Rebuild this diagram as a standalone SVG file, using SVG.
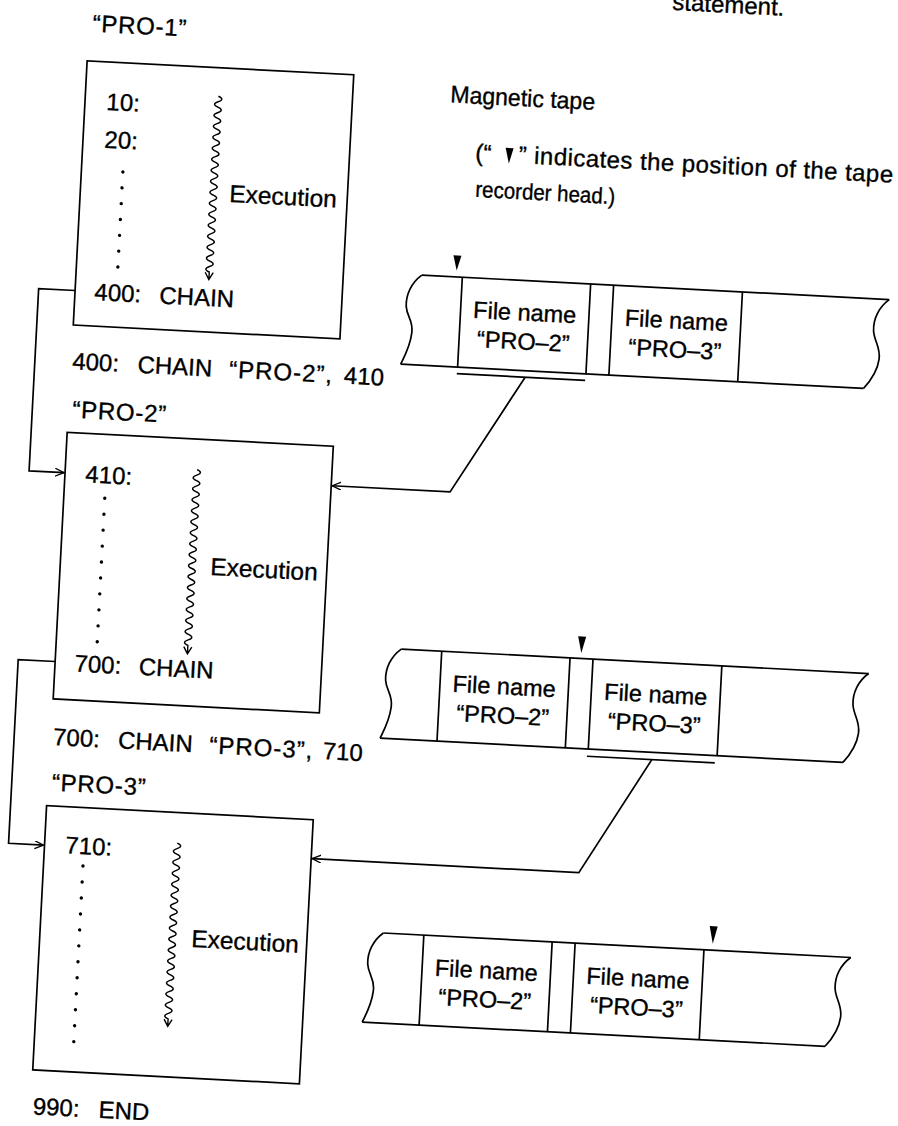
<svg xmlns="http://www.w3.org/2000/svg" width="898" height="1126" viewBox="0 0 898 1126">
<defs>
<style>
.ln{fill:none;stroke:#000;stroke-width:1.7;stroke-linejoin:miter}
.th{fill:none;stroke:#000;stroke-width:1.4}
.t{font-family:"Liberation Sans",Arial,Helvetica,sans-serif;font-size:24px;fill:#000;stroke:#000;stroke-width:0.35}
.ex{font-size:24.5px}
.fn{text-anchor:middle;font-size:23.5px}
.sm{font-size:22.5px}
.dot{fill:#000}
.mk{fill:#000;stroke:none}
</style>
<marker id="arr" markerUnits="userSpaceOnUse" markerWidth="12" markerHeight="10" refX="9" refY="4" orient="auto">
<path d="M0,0 L9,4 L0,8" fill="none" stroke="#000" stroke-width="1.3"/>
</marker>
<g id="tapeShape">
<path class="ln" d="M407,0 C397,8 392,20 393,32 C394,42 401,46 400,58 C399,72 394,82 390.5,90"/>
<path class="ln" d="M875,0 C865,8 860,20 861,32 C862,42 869,48 868,60 C867,72 859,84 854,90"/>
<path class="ln" d="M407,0 H875 M390.5,90 H854"/>
<path class="ln" d="M447.5,0 V90 M576,0 V90 M599,0 V90 M728,0 V90"/>
<text class="t fn" x="511.75" y="40">File name</text>
<text class="t fn" x="511.75" y="69">“PRO–2”</text>
<text class="t fn" x="663.5" y="40">File name</text>
<text class="t fn" x="663.5" y="69">“PRO–3”</text>
</g>
</defs>
<rect width="898" height="1126" fill="#fff"/>
<g transform="rotate(3 450 560)">
<text class="t" x="643" y="-1">statement.</text>

<g id="pro1">
<text class="t" x="65" y="51" textLength="94" lengthAdjust="spacing">“PRO-1”</text>
<rect class="ln" x="61.5" y="80.5" width="267" height="264.5"/>
<text class="t" x="83" y="128.5">10:</text>
<text class="t" x="83" y="166.3">20:</text>
<g class="dot">
<circle cx="103" cy="189.6" r="1.7"/><circle cx="103" cy="205.5" r="1.7"/><circle cx="103" cy="221.3" r="1.7"/><circle cx="103" cy="237.2" r="1.7"/><circle cx="103" cy="253.1" r="1.7"/><circle cx="103" cy="268.9" r="1.7"/><circle cx="103" cy="284.8" r="1.7"/>
</g>
<path class="th" d="M194.5,109 q7,2.75 0,5.5 t0,5.5 t0,5.5 t0,5.5 t0,5.5 t0,5.5 t0,5.5 t0,5.5 t0,5.5 t0,5.5 t0,5.5 t0,5.5 t0,5.5 t0,5.5 t0,5.5 t0,5.5 t0,5.5 t0,5.5 t0,5.5 t0,5.5 t0,5.5 t0,5.5 t0,5.5 t0,5.5 t0,5.5 t0,5.5 t0,5.5 t0,5.5 t0,5.5 t0,5.5 t0,5.5 t0,5.5 L194.5,292 M190.5,285.5 L194.5,292.5 L198.5,285.5"/>
<text class="t ex" x="210.5" y="214">Execution</text>
<text class="t" y="319"><tspan x="81">400:</tspan><tspan x="146">CHAIN</tspan></text>
</g>

<text id="chain1" class="t" y="389.3"><tspan x="62.5">400:</tspan><tspan x="127.8">CHAIN</tspan><tspan x="219.5" textLength="103" lengthAdjust="spacing">“PRO-2”,</tspan><tspan x="334.5">410</tspan></text>

<g id="pro2">
<text class="t" x="65" y="437.6" textLength="94" lengthAdjust="spacing">“PRO-2”</text>
<rect class="ln" x="61" y="452.5" width="266.5" height="267"/>
<text class="t" x="81.5" y="501.5">410:</text>
<g class="dot">
<circle cx="102" cy="516.4" r="1.7"/><circle cx="102" cy="532.4" r="1.7"/><circle cx="102" cy="548.3" r="1.7"/><circle cx="102" cy="564.3" r="1.7"/><circle cx="102" cy="580.3" r="1.7"/><circle cx="102" cy="596.2" r="1.7"/><circle cx="102" cy="612.2" r="1.7"/><circle cx="102" cy="628.2" r="1.7"/><circle cx="102" cy="644.2" r="1.7"/><circle cx="102" cy="660.1" r="1.7"/>
</g>
<path class="th" d="M192.7,483 q7,2.75 0,5.5 t0,5.5 t0,5.5 t0,5.5 t0,5.5 t0,5.5 t0,5.5 t0,5.5 t0,5.5 t0,5.5 t0,5.5 t0,5.5 t0,5.5 t0,5.5 t0,5.5 t0,5.5 t0,5.5 t0,5.5 t0,5.5 t0,5.5 t0,5.5 t0,5.5 t0,5.5 t0,5.5 t0,5.5 t0,5.5 t0,5.5 t0,5.5 t0,5.5 t0,5.5 t0,5.5 t0,5.5 L192.7,667 M188.7,660.5 L192.7,667.5 L196.7,660.5"/>
<text class="t ex" x="211" y="587.5">Execution</text>
<text class="t" y="691"><tspan x="80.5">700:</tspan><tspan x="145">CHAIN</tspan></text>
</g>

<text id="chain2" class="t" y="765.5"><tspan x="63">700:</tspan><tspan x="128">CHAIN</tspan><tspan x="219.5" textLength="103" lengthAdjust="spacing">“PRO-3”,</tspan><tspan x="333">710</tspan></text>

<g id="pro3">
<text class="t" x="64" y="811" textLength="94" lengthAdjust="spacing">“PRO-3”</text>
<rect class="ln" x="60" y="826.5" width="267" height="264.5"/>
<text class="t" x="81" y="873">710:</text>
<g class="dot">
<circle cx="99.5" cy="884.8" r="1.7"/><circle cx="99.5" cy="900.8" r="1.7"/><circle cx="99.5" cy="916.8" r="1.7"/><circle cx="99.5" cy="932.8" r="1.7"/><circle cx="99.5" cy="948.8" r="1.7"/><circle cx="99.5" cy="964.8" r="1.7"/><circle cx="99.5" cy="980.7" r="1.7"/><circle cx="99.5" cy="996.7" r="1.7"/><circle cx="99.5" cy="1012.7" r="1.7"/><circle cx="99.5" cy="1028.7" r="1.7"/><circle cx="99.5" cy="1044.7" r="1.7"/><circle cx="99.5" cy="1060.7" r="1.7"/>
</g>
<path class="th" d="M192.5,857 q7,2.75 0,5.5 t0,5.5 t0,5.5 t0,5.5 t0,5.5 t0,5.5 t0,5.5 t0,5.5 t0,5.5 t0,5.5 t0,5.5 t0,5.5 t0,5.5 t0,5.5 t0,5.5 t0,5.5 t0,5.5 t0,5.5 t0,5.5 t0,5.5 t0,5.5 t0,5.5 t0,5.5 t0,5.5 t0,5.5 t0,5.5 t0,5.5 t0,5.5 t0,5.5 t0,5.5 t0,5.5 t0,5.5 L192.5,1040 M188.5,1033.5 L192.5,1040.5 L196.5,1033.5"/>
<text class="t ex" x="211.5" y="960">Execution</text>
</g>

<text id="end" class="t" y="1135.5"><tspan x="62">990:</tspan><tspan x="128">END</tspan></text>

<g id="legend">
<text class="t" x="426" y="103" textLength="145" lengthAdjust="spacingAndGlyphs">Magnetic tape</text>
<text class="t" x="454" y="160">(“</text>
<polygon class="mk" points="484,145.5 492,145.5 488,161"/>
<text class="t" x="497.4" y="160" textLength="375" lengthAdjust="spacing">” indicates the position of the tape</text>
<text class="t sm" x="456" y="196" textLength="140" lengthAdjust="spacingAndGlyphs">recorder head.)</text>
</g>

<g id="tape1">
<use href="#tapeShape" transform="translate(0,277)"/>
<polygon class="mk" points="437.5,255.5 445.5,255.5 441.5,270.5"/>
<path class="ln" d="M447,373.5 H575.5"/>
</g>
<g id="tape2">
<use href="#tapeShape" transform="translate(-1,651.5)"/>
<polygon class="mk" points="582,629.5 590,629.5 586,646"/>
<path class="ln" d="M597,748.8 H725"/>
</g>
<g id="tape3">
<use href="#tapeShape" transform="translate(-4,936)"/>
<polygon class="mk" points="728.5,912 736.5,912 732.5,929.5"/>
</g>

<g id="connectors">
<path class="ln" d="M61.5,310.5 H25 V493 H60" marker-end="url(#arr)"/>
<path class="ln" d="M61,682 H24 V866 H59" marker-end="url(#arr)"/>
<path class="ln" d="M515.5,373.5 L446.5,492 H328.5" marker-end="url(#arr)"/>
<path class="ln" d="M662,748.8 L595,865.5 H328" marker-end="url(#arr)"/>
</g>
</g>
</svg>
